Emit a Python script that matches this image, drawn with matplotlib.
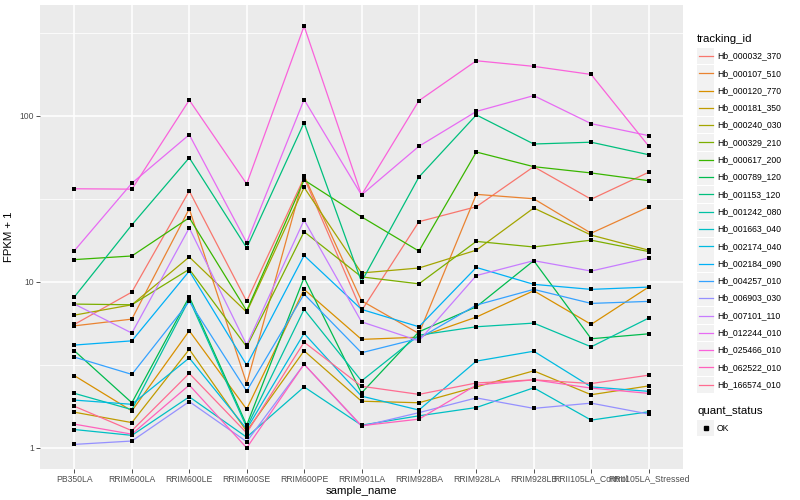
import numpy as np
import matplotlib
matplotlib.use("Agg")
import matplotlib.pyplot as plt
from matplotlib.patches import Rectangle
from matplotlib.lines import Line2D

plt.rcParams["font.family"] = ["Liberation Sans", "DejaVu Sans"]

W, H = 800, 500

samples = ["PB350LA", "RRIM600LA", "RRIM600LE", "RRIM600SE", "RRIM600PE",
           "RRIM901LA", "RRIM928BA", "RRIM928LA", "RRIM928LB",
           "RRII105LA_Control", "RRII105LA_Stressed"]

tracking_ids = ["Hb_000032_370", "Hb_000107_510", "Hb_000120_770", "Hb_000181_350",
                "Hb_000240_030", "Hb_000329_210", "Hb_000617_200", "Hb_000789_120",
                "Hb_001153_120", "Hb_001242_080", "Hb_001663_040", "Hb_002174_040",
                "Hb_002184_090", "Hb_004257_010", "Hb_006903_030", "Hb_007101_110",
                "Hb_012244_010", "Hb_025466_010", "Hb_062522_010", "Hb_166574_010"]

# ggplot default hue palette, 20 levels
colors = ["#F8766D", "#EA8331", "#D89000", "#C09B00", "#A3A500", "#7CAE00", "#39B600",
          "#00BB4E", "#00BF7D", "#00C1A3", "#00BFC4", "#00BAE0", "#00B0F6", "#35A2FF",
          "#9590FF", "#C77CFF", "#E76BF3", "#FA62DB", "#FF62BC", "#FF6C91"]

# FPKM + 1, one list per gene, in sample order
hb_000032_370 = [5.54, 8.67, 35.2, 7.62, 42.3, 6.69, 23.0, 28.3, 49.3, 31.4, 45.6]
hb_000107_510 = [5.43, 5.96, 27.5, 2.44, 43.5, 7.69, 4.88, 33.6, 31.6, 19.6, 28.2]
hb_000120_770 = [2.72, 1.67, 5.07, 1.71, 9.00, 4.50, 4.64, 6.13, 8.83, 5.54, 9.29]
hb_000181_350 = [1.64, 1.42, 3.92, 1.26, 3.84, 1.91, 1.87, 2.33, 2.91, 2.09, 2.36]
hb_000240_030 = [6.30, 7.27, 14.1, 6.57, 37.0, 11.3, 12.1, 15.5, 27.8, 19.1, 15.5]
hb_000329_210 = [7.34, 7.27, 11.9, 4.06, 20.0, 10.7, 9.72, 17.5, 16.2, 17.8, 15.2]
hb_000617_200 = [13.6, 14.3, 24.3, 6.69, 41.0, 24.6, 15.3, 60.4, 49.3, 45.2, 40.6]
hb_000789_120 = [3.84, 1.87, 8.12, 1.37, 10.6, 2.14, 5.00, 7.07, 13.4, 4.54, 4.86]
hb_001153_120 = [8.12, 22.0, 55.8, 16.0, 90.7, 10.0, 42.7, 101.0, 67.5, 69.2, 58.2]
hb_001242_080 = [2.13, 1.70, 7.83, 1.33, 6.82, 2.53, 4.77, 5.36, 5.64, 4.06, 6.04]
hb_001663_040 = [1.29, 1.19, 2.03, 1.16, 2.33, 1.37, 1.56, 1.75, 2.30, 1.47, 1.65]
hb_002174_040 = [1.94, 1.83, 3.48, 1.30, 4.89, 2.05, 1.69, 3.33, 3.82, 2.33, 2.19]
hb_002184_090 = [4.16, 4.41, 11.6, 3.15, 14.4, 6.82, 5.36, 12.2, 9.65, 9.00, 9.29]
hb_004257_010 = [3.52, 2.77, 7.62, 2.20, 8.43, 3.74, 4.56, 7.24, 9.00, 7.41, 7.62]
hb_006903_030 = [1.05, 1.10, 1.90, 1.09, 3.19, 1.35, 1.63, 2.00, 1.73, 1.86, 1.60]
hb_007101_110 = [7.34, 4.91, 21.1, 4.16, 23.5, 5.74, 4.41, 10.9, 13.4, 11.6, 13.9]
hb_012244_010 = [15.4, 39.2, 76.8, 17.2, 125.0, 33.3, 65.4, 106.0, 132.0, 89.5, 75.8]
hb_025466_010 = [36.3, 36.1, 124.0, 38.8, 346.0, 33.3, 123.0, 214.0, 198.0, 177.0, 65.7]
hb_062522_010 = [1.39, 1.21, 2.39, 1.00, 3.19, 1.36, 1.49, 2.39, 2.57, 2.29, 2.13]
hb_166574_010 = [1.78, 1.27, 2.81, 1.23, 4.33, 2.35, 2.10, 2.46, 2.57, 2.44, 2.74]

series = [hb_000032_370, hb_000107_510, hb_000120_770, hb_000181_350, hb_000240_030,
          hb_000329_210, hb_000617_200, hb_000789_120, hb_001153_120, hb_001242_080,
          hb_001663_040, hb_002174_040, hb_002184_090, hb_004257_010, hb_006903_030,
          hb_007101_110, hb_012244_010, hb_025466_010, hb_062522_010, hb_166574_010]

quant_levels = ["OK"]


def fx(x):
    return x / W


def fy(y):
    return 1 - y / H


fig = plt.figure(figsize=(8, 5), dpi=100)
fig.patch.set_facecolor("white")

# panel in pixel coords: left 40, right 683, top 5, bottom 469
ax = fig.add_axes([fx(40), fy(469), (683 - 40) / W, (469 - 5) / H])
ax.set_facecolor("#EBEBEB")

xpos = np.arange(len(samples))
for vals, col in zip(series, colors):
    ax.plot(xpos, vals, color=col, lw=0.9, zorder=2)
for vals in series:
    ax.scatter(xpos, vals, marker="s", s=7, color="black", zorder=3, linewidths=0)

ax.set_yscale("log")
allv = np.log10(np.concatenate([np.asarray(s, float) for s in series]))
lo, hi = allv.min(), allv.max()
pad = 0.05 * (hi - lo)
ax.set_ylim(10 ** (lo - pad), 10 ** (hi + pad))
ax.set_xlim(-0.6, len(samples) - 0.4)

ax.set_yticks([1, 10, 100])
ax.set_yticklabels(["1", "10", "100"])
ax.set_yticks([10 ** 0.5, 10 ** 1.5, 10 ** 2.5], minor=True)
ax.set_yticklabels([], minor=True)
ax.set_xticks(xpos)
ax.set_xticklabels(samples)

ax.grid(True, which="major", color="white", lw=1.1, zorder=0)
ax.grid(True, which="minor", axis="y", color="white", lw=0.55, zorder=0)
ax.set_axisbelow(True)
for sp in ax.spines.values():
    sp.set_visible(False)

ax.tick_params(which="major", length=2.6, width=0.6, color="#333333",
               labelsize=6.2, labelcolor="#4D4D4D", pad=1.5)
ax.tick_params(which="minor", length=0)

ax.set_xlabel("sample_name", fontsize=8.2, labelpad=1.5)
ax.set_ylabel("FPKM + 1", fontsize=8.2, labelpad=4)

# legend, drawn by hand like ggplot guides
fig.text(fx(697), fy(39), "tracking_id", fontsize=8.2, va="center", ha="left")
y0, step = 56.0, 17.3
for i, (name, col) in enumerate(zip(tracking_ids, colors)):
    yc = y0 + i * step
    fig.add_artist(Rectangle((fx(697), fy(yc + 8.2)), 17 / W, 16.4 / H,
                             transform=fig.transFigure, facecolor="#F2F2F2",
                             edgecolor="none"))
    fig.add_artist(Line2D([fx(698.5), fx(712.5)], [fy(yc), fy(yc)],
                          transform=fig.transFigure, color=col, lw=0.9))
    fig.text(fx(717), fy(yc), name, fontsize=6.2, va="center", ha="left")

yq = y0 + 19 * step + 26
fig.text(fx(697), fy(yq), "quant_status", fontsize=8.2, va="center", ha="left")
for j, lev in enumerate(quant_levels):
    yc = yq + 17.5 + j * step
    fig.add_artist(Rectangle((fx(697), fy(yc + 8.2)), 17 / W, 16.4 / H,
                             transform=fig.transFigure, facecolor="#F2F2F2",
                             edgecolor="none"))
    fig.add_artist(Line2D([fx(705.5)], [fy(yc)], transform=fig.transFigure,
                          marker="s", markersize=2.6, color="black", lw=0))
    fig.text(fx(717), fy(yc), lev, fontsize=6.2, va="center", ha="left")

fig.savefig("out.png", dpi=100)
plt.close(fig)
